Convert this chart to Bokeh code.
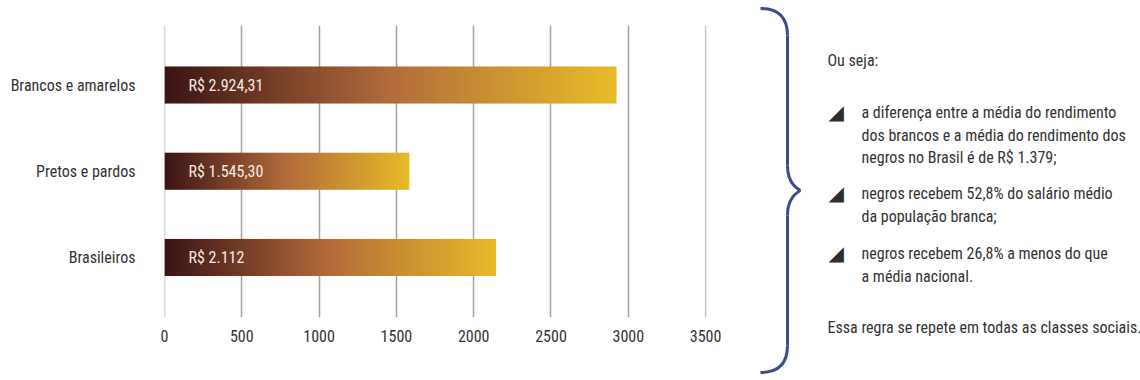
import numpy as np
from bokeh.plotting import figure
from bokeh.models import Range1d, FixedTicker, Span
from bokeh.core.properties import value
from bokeh.embed import file_html
from bokeh.resources import INLINE

# ---------------- data ----------------
categories = ["Brasileiros", "Pretos e pardos", "Brancos e amarelos"]
bar_values = [2145, 1584, 2924]
value_labels = ["R$ 2.112", "R$ 1.545,30", "R$ 2.924,31"]
x_ticks = [0, 500, 1000, 1500, 2000, 2500, 3000, 3500]

intro_text = "Ou seja:"
bullets = [
    ["a diferença entre a média do rendimento",
     "dos brancos e a média do rendimento dos",
     "negros no Brasil é de R$ 1.379;"],
    ["negros recebem 52,8% do salário médio",
     "da população branca;"],
    ["negros recebem 26,8% a menos do que",
     "a média nacional."],
]
closing_text = "Essa regra se repete em todas as classes sociais."

FONT = "Roboto Condensed"
TXT = "#333333"

# ---------------- figure ----------------
p = figure(width=1140, height=380, output_backend="svg", toolbar_location=None,
           x_range=Range1d(0, 3700), y_range=Range1d(-0.696, 2.69),
           min_border_left=164, min_border_right=404,
           min_border_top=25, min_border_bottom=63)
p.outline_line_color = None
p.background_fill_color = "white"
p.border_fill_color = "white"
# helper ranges in page pixels for the side notes
p.extra_x_ranges = {"px": Range1d(164, 736)}
p.extra_y_ranges = {"py": Range1d(317, 25)}

# gradient image (dark brown -> orange -> yellow), stretched across each bar
stops_pos = [0.0, 0.5, 1.0]
stops_rgb = [(59, 20, 21), (180, 108, 59), (232, 188, 40)]
N = 400
t = np.linspace(0, 1, N)
rgb = np.stack([np.interp(t, stops_pos, [c[i] for c in stops_rgb]) for i in range(3)], axis=-1)
img = np.empty((1, N), dtype=np.uint32)
view = img.view(dtype=np.uint8).reshape((1, N, 4))
view[0, :, 0] = rgb[:, 0].astype(np.uint8)
view[0, :, 1] = rgb[:, 1].astype(np.uint8)
view[0, :, 2] = rgb[:, 2].astype(np.uint8)
view[0, :, 3] = 255

# grid lines (the one at 0 is drawn as a span because the grid skips range edges)
p.xgrid.ticker = FixedTicker(ticks=x_ticks[:-1])
p.xgrid.grid_line_color = "#a3a3a3"
p.xgrid.grid_line_width = 1.5
p.ygrid.grid_line_color = None
p.add_layout(Span(location=x_ticks[0], dimension="height", line_color="#b5b5b5",
                  line_width=1.5, level="underlay"))
p.add_layout(Span(location=x_ticks[-1], dimension="height", line_color="#c4c4c4",
                  line_width=1.5, level="underlay"))

bar_h = 0.43
ypos = list(range(len(categories)))
p.image_rgba(image=[img] * len(categories), x=[0] * len(categories),
             y=[y - bar_h / 2 for y in ypos], dw=bar_values, dh=[bar_h] * len(categories))

p.text(x=[0] * len(categories), y=ypos, text=value_labels, x_offset=24,
       text_baseline="middle", text_align="left", text_color="#f4ebe3",
       text_font=value(FONT), text_font_size="16px")

p.xaxis.ticker = FixedTicker(ticks=x_ticks)
p.xaxis.axis_line_color = None
p.xaxis.major_tick_line_color = None
p.xaxis.minor_tick_line_color = None
p.xaxis.major_tick_out = 0
p.xaxis.major_label_standoff = 12
p.xaxis.major_label_text_font = FONT
p.xaxis.major_label_text_font_size = "16px"
p.xaxis.major_label_text_color = TXT

p.yaxis.ticker = FixedTicker(ticks=ypos)
p.yaxis.major_label_overrides = {i: c for i, c in enumerate(categories)}
p.yaxis.axis_line_color = None
p.yaxis.major_tick_line_color = None
p.yaxis.minor_tick_line_color = None
p.yaxis.major_tick_out = 0
p.yaxis.major_label_standoff = 29
p.yaxis.major_label_text_font = FONT
p.yaxis.major_label_text_font_size = "16px"
p.yaxis.major_label_text_color = TXT

# ---------------- brace (page pixel coords, drawn above the frame clip) ----------------
BRACE = "#3c4b8b"
kw = dict(x_range_name="px", y_range_name="py", level="overlay")
p.quadratic(x0=[760, 787, 800, 787], y0=[8, 165, 190, 345],
            x1=[787, 800, 787, 760], y1=[35, 190, 215, 372],
            cx=[787, 787, 787, 787], cy=[8, 183, 197, 372],
            line_color=BRACE, line_width=3, **kw)
p.segment(x0=[787, 787], y0=[35, 215], x1=[787, 787], y1=[165, 345],
          line_color=BRACE, line_width=3, **kw)

# ---------------- notes ----------------
tx, ty, tt = [827], [60], [intro_text]
bx, by = [], []
bullet_first_baselines = [112, 193, 253]
line_gap = 22.5
for b, base in zip(bullets, bullet_first_baselines):
    bx.append(828)
    by.append(base - 1)
    for k, line in enumerate(b):
        tx.append(861)
        ty.append(base + k * line_gap)
        tt.append(line)
tx.append(827); ty.append(327); tt.append(closing_text)

p.text(x=bx, y=by, text=["◢"] * len(bx), text_baseline="alphabetic", text_align="left",
       text_color="#2e2e2e", text_font=value("DejaVu Sans"), text_font_size="20px", **kw)
p.text(x=tx, y=ty, text=tt, text_baseline="alphabetic", text_align="left",
       text_color=TXT, text_font=value(FONT), text_font_size="16px", **kw)

open("out.html", "w").write(file_html(p, INLINE))
